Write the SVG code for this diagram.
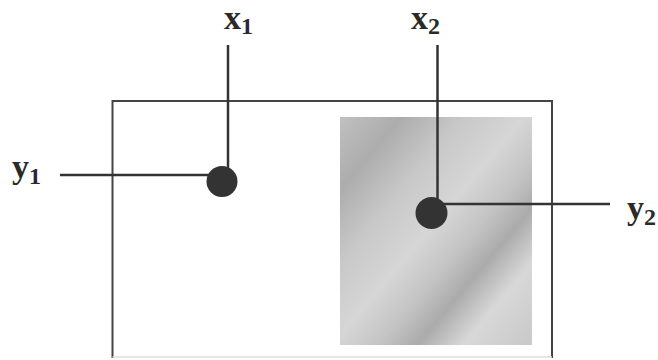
<svg xmlns="http://www.w3.org/2000/svg" width="658" height="360" viewBox="0 0 658 360">
<style>
.ln{stroke:#333;stroke-width:2.5;fill:none}
.dot{fill:#333}
.lbl{font-family:"Liberation Serif","Times New Roman",serif;font-weight:bold;font-size:34px;fill:#2a2a2a}
.sub{font-size:24px}
</style>
<defs>
<linearGradient id="g" x1="0" y1="0" x2="1" y2="1">
<stop offset="0" stop-color="#c0c0c0"/>
<stop offset="0.16" stop-color="#adadad"/>
<stop offset="0.32" stop-color="#c8c8c8"/>
<stop offset="0.48" stop-color="#d6d6d6"/>
<stop offset="0.6" stop-color="#c4c4c4"/>
<stop offset="0.7" stop-color="#ababab"/>
<stop offset="0.82" stop-color="#d8d8d8"/>
<stop offset="1" stop-color="#c8c8c8"/>
</linearGradient>
</defs>
<rect width="658" height="360" fill="#fff"/>
<g id="frame">
<path d="M112.5 358 V101 H552 V358" stroke="#444" stroke-width="2" fill="none"/>
<line x1="112.5" y1="357" x2="552" y2="357" stroke="#ddd" stroke-width="1.5"/>
</g>
<g id="region">
<rect x="340" y="117" width="192" height="228" fill="url(#g)"/>
</g>
<g id="connectors">
<line class="ln" x1="228" y1="45" x2="228" y2="172"/>
<line class="ln" x1="60" y1="175" x2="212" y2="175"/>
<line class="ln" x1="437.5" y1="45" x2="437.5" y2="203"/>
<line class="ln" x1="442" y1="204" x2="610" y2="204"/>
</g>
<g id="point1"><circle class="dot" cx="222" cy="181.5" r="15.5"/></g>
<g id="point2"><circle class="dot" cx="431.5" cy="213" r="16"/></g>
<g id="label-x1"><text class="lbl" x="224" y="29">x<tspan class="sub" dy="5">1</tspan></text></g>
<g id="label-x2"><text class="lbl" x="411" y="29">x<tspan class="sub" dy="5">2</tspan></text></g>
<g id="label-y1"><text class="lbl" x="12" y="178">y<tspan class="sub" dy="6">1</tspan></text></g>
<g id="label-y2"><text class="lbl" x="627" y="219">y<tspan class="sub" dy="6">2</tspan></text></g>
</svg>
